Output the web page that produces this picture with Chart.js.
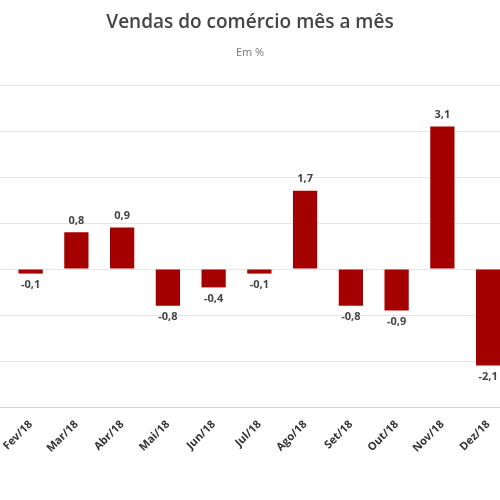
<!DOCTYPE html><html><head><meta charset="utf-8">
<script src="https://cdn.jsdelivr.net/npm/chart.js@4"></script>
<style>body{margin:0;width:500px;height:500px;overflow:hidden;position:relative;background:#fff;font-family:"Open Sans",sans-serif}
#t{position:absolute;top:8px;width:500px;text-align:center;font-size:19px;font-weight:600;color:#444}
#s{position:absolute;top:44px;width:500px;text-align:center;font-size:11px;color:#777}
#w{position:absolute;left:-38px;top:0;width:560px;height:500px}</style></head><body>
<div id="w"><canvas id="c"></canvas></div>
<div id="t">Vendas do comércio mês a mês</div><div id="s">Em %</div>
<script>
const categories=['','Fev/18','Mar/18','Abr/18','Mai/18','Jun/18','Jul/18','Ago/18','Set/18','Out/18','Nov/18','Dez/18'];
const values=[null,-0.1,0.8,0.9,-0.8,-0.4,-0.1,1.7,-0.8,-0.9,3.1,-2.1];
const lbl={id:'lbl',afterDatasetsDraw(ch){const ctx=ch.ctx;ctx.save();ctx.font='bold 11px "Open Sans"';ctx.fillStyle='#444';ctx.textAlign='center';
ch.getDatasetMeta(0).data.forEach((b,i)=>{const v=values[i];if(v==null)return;const t=v.toFixed(1).replace('.',',');
if(v>=0){ctx.textBaseline='bottom';ctx.fillText(t,b.x,b.y-6);}else{ctx.textBaseline='top';ctx.fillText(t,b.x,b.y+6);}});ctx.restore();}};
new Chart(document.getElementById('c'),{type:'bar',data:{labels:categories,datasets:[{data:values,backgroundColor:'#a50000',barPercentage:0.53,categoryPercentage:1}]},
options:{responsive:true,maintainAspectRatio:false,animation:false,layout:{padding:{top:85,right:11,left:0,bottom:0}},
plugins:{legend:{display:false},tooltip:{enabled:false}},
scales:{y:{min:-3,max:4,ticks:{display:false,stepSize:1},border:{display:false},grid:{color:'#e6e6e6',drawTicks:false}},
x:{afterFit(s){s.height=93;},grid:{display:false},border:{color:'#ccd6eb'},ticks:{maxRotation:45,minRotation:45,color:'#333',font:{size:11,weight:'bold',family:'"Open Sans"'}}}}},plugins:[lbl]});
</script></body></html>
